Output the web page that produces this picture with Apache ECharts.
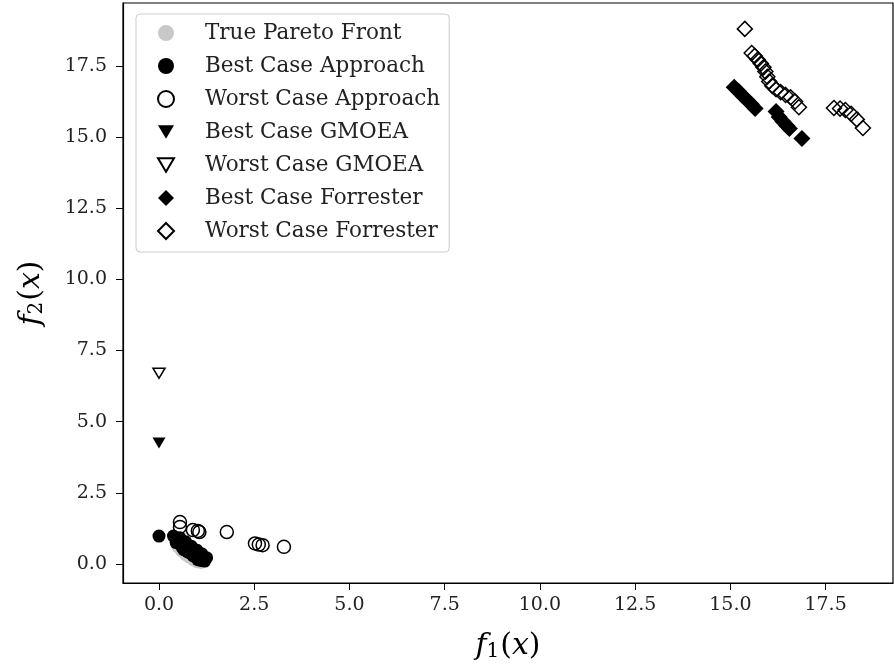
<!DOCTYPE html>
<html>
<head>
<meta charset="utf-8">
<script src="https://cdn.jsdelivr.net/npm/echarts@6/dist/echarts.min.js"></script>
<style>
  html, body { margin: 0; padding: 0; background: #fff; }
  #chart { width: 894px; height: 670px; }
</style>
</head>
<body>
<div id="chart"></div>
<script>
// values
var trueFrontX = [0.5, 0.6, 0.7, 0.8, 0.9, 1.0, 1.1];
var trueFrontY = [0.6, 0.45, 0.33, 0.24, 0.15, 0.08, 0.05];

var bestApproachX = [0.0, 0.38, 0.45, 0.5, 0.58, 0.62, 0.7, 0.75, 0.82, 0.9, 0.95, 1.05, 1.12, 1.2,
  0.45, 0.6, 0.65, 0.75, 0.85, 0.9, 1.02, 1.1, 1.2,
  0.55, 0.7, 0.85, 1.0, 1.12, 1.25];
var bestApproachY = [0.98, 0.98, 0.9, 0.82, 0.78, 0.68, 0.62, 0.55, 0.5, 0.45, 0.38, 0.32, 0.25, 0.18,
  0.75, 0.6, 0.5, 0.42, 0.35, 0.28, 0.15, 0.12, 0.1,
  0.92, 0.78, 0.62, 0.48, 0.36, 0.22];

var worstApproachX = [0.55, 0.55, 0.89, 1.02, 1.06, 1.78, 2.52, 2.62, 2.72, 3.28];
var worstApproachY = [1.47, 1.3, 1.19, 1.16, 1.12, 1.12, 0.72, 0.68, 0.66, 0.6];

var bestGmoeaX = [0.0];
var bestGmoeaY = [4.25];
var worstGmoeaX = [0.0];
var worstGmoeaY = [6.7];

var bestForresterX = [15.1, 15.22, 15.32, 15.45, 15.55, 15.65, 16.2, 16.28, 16.38, 16.48, 16.55, 16.88];
var bestForresterY = [16.75, 16.6, 16.45, 16.28, 16.15, 16.0, 15.9, 15.7, 15.55, 15.4, 15.3, 14.95];

var worstForresterX = [15.38, 15.56, 15.64, 15.72, 15.8, 15.87, 15.92, 15.97, 16.02, 16.1, 16.2, 16.32, 16.45, 16.58, 16.7, 16.8,
  17.72, 17.88, 18.02, 18.17, 18.32, 18.48];
var worstForresterY = [18.8, 17.95, 17.85, 17.72, 17.58, 17.45, 17.3, 17.12, 16.95, 16.8, 16.68, 16.58, 16.48, 16.4, 16.25, 16.05,
  16.02, 16.0, 15.95, 15.82, 15.62, 15.32];

var xTicks = [0, 2.5, 5, 7.5, 10, 12.5, 15, 17.5];
var yTicks = [0, 2.5, 5, 7.5, 10, 12.5, 15, 17.5];

function pairs(xs, ys) {
  return xs.map(function (x, i) { return [x, ys[i]]; });
}

var serif = 'DejaVu Serif';
var triDown = 'path://M0,0 L20,0 L10,17 Z';
var chart = echarts.init(document.getElementById('chart'));

function mark(name, xs, ys, symbol, size, filled, fill) {
  return {
    name: name,
    type: 'scatter',
    data: pairs(xs, ys),
    symbol: symbol,
    symbolSize: size,
    itemStyle: {
      color: filled ? fill : 'rgba(255,255,255,0)',
      borderColor: filled ? fill : '#000',
      borderWidth: filled ? 0 : 1.5,
      opacity: 1
    },
    emphasis: { disabled: true }
  };
}

var axisName = function (sub) {
  return '{i|f}{s|' + sub + '}{n|(}{i|x}{n|)}';
};
var nameRich = {
  i: { fontFamily: serif, fontStyle: 'italic', fontSize: 30, color: '#000' },
  n: { fontFamily: serif, fontSize: 30, color: '#000' },
  s: { fontFamily: serif, fontSize: 20, color: '#000', padding: [12, 1, 0, 0] }
};

chart.setOption({
  animation: false,
  backgroundColor: '#fff',
  grid: {
    left: 123, right: 1, top: 3, bottom: 87,
    show: true, borderColor: '#000', borderWidth: 1.2
  },
  legend: {
    orient: 'vertical',
    left: 136, top: 14,
    padding: [8, 9, 10, 21],
    itemGap: 11,
    itemWidth: 16,
    itemHeight: 16,
    borderColor: '#cccccc',
    borderWidth: 1,
    borderRadius: 4,
    backgroundColor: 'rgba(255,255,255,0.8)',
    textStyle: { fontFamily: serif, fontSize: 21.5, color: '#222', padding: [0, 0, 0, 26] },
    data: ['True Pareto Front', 'Best Case Approach', 'Worst Case Approach', 'Best Case GMOEA',
      'Worst Case GMOEA', 'Best Case Forrester', 'Worst Case Forrester']
  },
  xAxis: {
    type: 'value',
    min: -0.945, max: 19.27,
    name: axisName('1'),
    nameLocation: 'middle',
    nameGap: 47,
    nameTextStyle: { rich: nameRich },
    splitLine: { show: false },
    axisLine: { show: true, onZero: false, lineStyle: { color: '#000', width: 1.2 } },
    axisTick: { show: true, length: 7, customValues: xTicks, lineStyle: { color: '#000' } },
    axisLabel: {
      customValues: xTicks,
      fontFamily: serif, fontSize: 19, color: '#222', margin: 13,
      formatter: function (v) { return v.toFixed(1); }
    }
  },
  yAxis: {
    type: 'value',
    min: -0.67, max: 19.71,
    name: axisName('2'),
    nameLocation: 'middle',
    nameGap: 76,
    nameRotate: 90,
    nameTextStyle: { rich: nameRich },
    splitLine: { show: false },
    axisLine: { show: true, onZero: false, lineStyle: { color: '#000', width: 1.2 } },
    axisTick: { show: true, length: 7, customValues: yTicks, lineStyle: { color: '#000' } },
    axisLabel: {
      customValues: yTicks,
      fontFamily: serif, fontSize: 19, color: '#222', margin: 16,
      formatter: function (v) { return v.toFixed(1); }
    }
  },
  series: [
    mark('True Pareto Front', trueFrontX, trueFrontY, 'circle', 13, true, '#c8c8c8'),
    mark('Best Case Approach', bestApproachX, bestApproachY, 'circle', 13, true, '#000'),
    mark('Worst Case Approach', worstApproachX, worstApproachY, 'circle', 13, false),
    mark('Best Case GMOEA', bestGmoeaX, bestGmoeaY, triDown, [13, 11], true, '#000'),
    mark('Worst Case GMOEA', worstGmoeaX, worstGmoeaY, triDown, [12, 10], false),
    mark('Best Case Forrester', bestForresterX, bestForresterY, 'diamond', 17, true, '#000'),
    mark('Worst Case Forrester', worstForresterX, worstForresterY, 'diamond', 15, false)
  ]
});
</script>
</body>
</html>
